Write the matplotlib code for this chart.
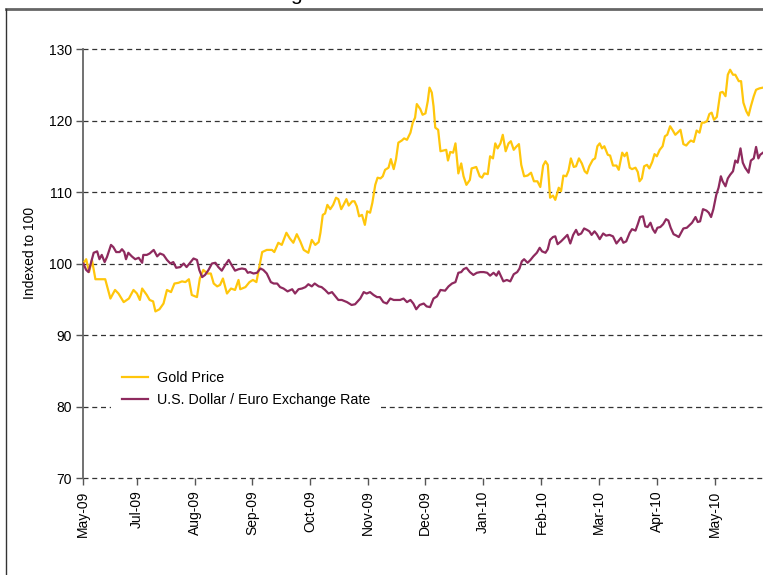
import matplotlib
matplotlib.use("Agg")
import matplotlib.pyplot as plt
from matplotlib.lines import Line2D

plt.rcParams['font.family'] = ['Liberation Sans', 'DejaVu Sans']

# x in months from the first tick (May-09)
gold_x = [0.00, 0.05, 0.10, 0.15, 0.21, 0.29, 0.38, 0.47, 0.55, 0.61, 0.70, 0.79, 0.87, 0.93, 0.98,
          1.02, 1.10, 1.15, 1.21, 1.25, 1.32, 1.39, 1.45, 1.52, 1.58, 1.65, 1.71, 1.77, 1.83, 1.88,
          1.97, 2.02, 2.08, 2.15, 2.21, 2.26, 2.32, 2.37, 2.42, 2.49, 2.56, 2.63, 2.69, 2.72, 2.81,
          2.88, 2.94, 3.00, 3.04, 3.10, 3.18, 3.27, 3.31, 3.38, 3.44, 3.52, 3.58, 3.64, 3.70, 3.76,
          3.82, 3.90, 3.96, 4.02, 4.08, 4.11, 4.15, 4.19, 4.23, 4.28, 4.33, 4.38, 4.42, 4.47, 4.51,
          4.56, 4.60, 4.66, 4.70, 4.74, 4.78, 4.83, 4.88, 4.92, 4.97, 5.01, 5.06, 5.10, 5.15, 5.19,
          5.23, 5.29, 5.33, 5.38, 5.42, 5.46, 5.52, 5.56, 5.61, 5.67, 5.71, 5.75, 5.78, 5.84, 5.88,
          5.93, 5.97, 6.00, 6.04, 6.07, 6.10, 6.15, 6.19, 6.24, 6.29, 6.32, 6.36, 6.41, 6.45, 6.50,
          6.55, 6.59, 6.64, 6.70, 6.73, 6.81, 6.87, 6.91, 6.95, 7.01, 7.05, 7.10, 7.14, 7.18, 7.23,
          7.27, 7.32, 7.37, 7.41, 7.46, 7.50, 7.55, 7.59, 7.64, 7.70, 7.76, 7.81, 7.87, 7.92, 7.97,
          8.01, 8.05, 8.09, 8.14, 8.18, 8.24, 8.28, 8.32, 8.37, 8.41, 8.45, 8.50, 8.54, 8.59, 8.64,
          8.69, 8.73, 8.77, 8.83, 8.87, 8.91, 8.95, 8.99, 9.03, 9.09, 9.13, 9.18, 9.24, 9.28, 9.34,
          9.38, 9.42, 9.47, 9.51, 9.57, 9.61, 9.64, 9.68, 9.72, 9.77, 9.81, 9.86, 9.90, 9.94, 9.99,
          10.04, 10.08, 10.12, 10.17, 10.21, 10.26, 10.30, 10.35, 10.40, 10.45, 10.49, 10.53, 10.58,
          10.63, 10.68, 10.72, 10.76, 10.81, 10.85, 10.89, 10.93, 10.98, 11.04, 11.08, 11.13, 11.17,
          11.21, 11.26, 11.30, 11.36, 11.40, 11.44, 11.49, 11.53, 11.57, 11.62, 11.66, 11.72, 11.78]
gold = [100.0, 100.6, 98.8, 100.5, 97.8, 97.8, 97.8, 95.1, 96.3, 95.8, 94.6, 95.1, 96.3, 95.8, 94.9,
        96.5, 95.6, 94.9, 94.7, 93.3, 93.6, 94.4, 96.3, 96.0, 97.2, 97.3, 97.5, 97.4, 97.8, 95.6,
        95.3, 97.9, 99.1, 98.6, 98.6, 97.2, 96.8, 97.0, 97.9, 95.8, 96.5, 96.3, 97.7, 96.4, 96.7,
        97.4, 97.7, 97.4, 99.1, 101.6, 101.9, 101.9, 101.6, 102.9, 102.6, 104.3, 103.5, 102.9, 104.1, 103.1,
        101.9, 101.5, 103.3, 102.6, 103.0, 104.3, 106.8, 107.0, 108.2, 107.6, 108.2, 109.2, 109.0, 107.6, 108.2,
        109.0, 108.1, 108.7, 108.7, 108.0, 106.6, 106.8, 105.4, 107.3, 107.1, 108.5, 111.0, 112.0, 111.9, 112.2,
        113.1, 113.4, 114.6, 113.2, 114.6, 116.9, 117.2, 117.5, 117.3, 118.3, 119.7, 120.4, 122.3, 121.6, 120.8,
        121.0, 122.7, 124.6, 123.9, 122.0, 119.0, 118.7, 115.7, 115.8, 115.9, 114.4, 115.6, 115.5, 116.8, 112.6,
        114.0, 112.2, 111.0, 111.7, 113.3, 113.5, 112.2, 112.0, 112.6, 112.5, 115.0, 114.7, 116.8, 116.1, 116.8,
        118.0, 115.7, 116.8, 117.1, 115.9, 116.3, 116.7, 113.8, 112.2, 112.3, 112.7, 111.5, 111.5, 110.7, 113.7,
        114.3, 113.8, 109.2, 109.5, 108.9, 110.6, 110.1, 112.3, 112.2, 113.0, 114.7, 113.5, 113.6, 114.7, 114.0,
        112.9, 112.6, 113.6, 114.5, 114.7, 116.4, 116.8, 116.1, 116.4, 115.2, 115.1, 113.7, 113.7, 113.1, 115.5,
        115.0, 115.5, 113.4, 113.2, 113.4, 112.8, 111.5, 111.9, 113.6, 113.8, 113.3, 114.2, 115.3, 115.0, 115.9,
        116.4, 117.8, 118.0, 119.2, 118.7, 118.0, 118.3, 118.7, 116.7, 116.5, 116.9, 117.2, 117.0,
        118.6, 118.3, 119.7, 119.7, 119.9, 120.9, 121.1, 120.1, 120.5, 123.9, 124.0, 123.4, 126.4,
        127.1, 126.4, 126.4, 125.5, 125.5, 122.5, 121.3, 120.7, 122.0, 123.4, 124.3, 124.5, 124.6]

usd_x = [0.00, 0.05, 0.09, 0.13, 0.18, 0.24, 0.28, 0.32, 0.37, 0.41, 0.48, 0.52, 0.57, 0.63, 0.67,
         0.71, 0.74, 0.78, 0.84, 0.90, 0.96, 1.02, 1.04, 1.10, 1.15, 1.22, 1.28, 1.33, 1.39, 1.45,
         1.51, 1.56, 1.61, 1.68, 1.74, 1.79, 1.85, 1.91, 1.97, 2.01, 2.06, 2.11, 2.17, 2.23, 2.29,
         2.34, 2.40, 2.46, 2.52, 2.57, 2.63, 2.69, 2.75, 2.81, 2.85, 2.89, 2.95, 3.01, 3.07, 3.12,
         3.18, 3.25, 3.30, 3.36, 3.41, 3.47, 3.54, 3.62, 3.67, 3.73, 3.79, 3.85, 3.90, 3.96, 4.01,
         4.08, 4.13, 4.19, 4.25, 4.31, 4.37, 4.42, 4.48, 4.57, 4.65, 4.71, 4.80, 4.86, 4.91, 4.97,
         5.03, 5.09, 5.14, 5.20, 5.26, 5.32, 5.38, 5.44, 5.49, 5.55, 5.61, 5.67, 5.72, 5.77, 5.83,
         5.90, 5.95, 6.01, 6.07, 6.13, 6.19, 6.27, 6.33, 6.39, 6.45, 6.50, 6.55, 6.59, 6.64, 6.70,
         6.76, 6.82, 6.88, 6.94, 7.00, 7.05, 7.11, 7.16, 7.20, 7.24, 7.28, 7.34, 7.40, 7.46, 7.52,
         7.56, 7.60, 7.64, 7.70, 7.75, 7.80, 7.86, 7.91, 7.95, 8.01, 8.05, 8.09, 8.14, 8.18, 8.22,
         8.28, 8.34, 8.39, 8.44, 8.49, 8.54, 8.58, 8.63, 8.68, 8.73, 8.77, 8.81, 8.86, 8.90, 8.95,
         9.01, 9.06, 9.12, 9.18, 9.24, 9.28, 9.32, 9.36, 9.41, 9.47, 9.51, 9.57, 9.61, 9.65, 9.70,
         9.74, 9.78, 9.83, 9.87, 9.91, 9.95, 10.00, 10.05, 10.10, 10.14, 10.18, 10.23, 10.28, 10.32,
         10.36, 10.40, 10.46, 10.51, 10.55, 10.61, 10.65, 10.69, 10.74, 10.80, 10.84, 10.88, 10.92,
         10.97, 11.01, 11.05, 11.08, 11.13, 11.17, 11.21, 11.26, 11.30, 11.34, 11.39, 11.43, 11.47,
         11.53, 11.57, 11.62, 11.66, 11.70, 11.73, 11.78]
usd = [100.0, 99.1, 98.8, 100.0, 101.5, 101.7, 100.6, 101.2, 100.2, 100.9, 102.6, 102.3, 101.6, 101.6, 102.0,
       101.6, 100.6, 101.5, 101.0, 100.6, 100.8, 100.1, 101.2, 101.2, 101.4, 101.9, 101.0, 101.4, 101.2, 100.5,
       100.0, 100.2, 99.4, 99.5, 100.0, 99.5, 100.1, 100.7, 100.5, 99.1, 98.1, 98.4, 99.1, 100.0, 100.1,
       99.5, 99.0, 99.8, 100.5, 99.8, 99.0, 99.2, 99.3, 99.2, 98.7, 98.8, 98.6, 98.7, 99.3, 99.1,
       98.6, 97.4, 97.2, 97.2, 96.7, 96.5, 96.1, 96.4, 95.8, 96.4, 96.5, 96.7, 97.1, 96.8, 97.2,
       96.8, 96.7, 96.3, 95.8, 96.0, 95.4, 94.9, 94.9, 94.6, 94.2, 94.3, 95.1, 96.0, 95.8, 96.0,
       95.6, 95.3, 95.3, 94.6, 94.4, 95.1, 94.9, 94.9, 94.9, 95.1, 94.6, 94.9, 94.4, 93.6, 94.2,
       94.4, 94.0, 93.9, 95.1, 95.4, 96.3, 96.2, 96.8, 97.2, 97.4, 98.7, 98.8, 99.2, 99.4, 98.8,
       98.4, 98.7, 98.8, 98.8, 98.7, 98.3, 98.7, 98.3, 98.9, 98.2, 97.5, 97.7, 97.5, 98.5, 98.8,
       99.3, 100.3, 100.6, 100.1, 100.5, 101.0, 101.5, 102.2, 101.7, 101.5, 102.0, 103.3, 103.7, 103.8, 102.7,
       103.1, 103.6, 104.0, 102.8, 104.0, 104.7, 104.0, 104.2, 104.9, 104.7, 104.5, 104.0, 104.5, 104.1, 103.4,
       104.2, 103.9, 104.0, 103.8, 102.8, 103.2, 103.6, 102.9, 103.1, 104.3, 104.8, 104.6, 105.5, 106.5, 106.6,
       105.2, 105.1, 105.7, 104.8, 104.3, 105.0, 105.1, 105.5, 106.2, 106.0, 105.0, 104.1, 103.9, 103.7,
       104.3, 104.9, 105.0, 105.4, 105.7, 106.5, 105.8, 105.9, 107.6, 107.4, 107.1, 106.5, 107.6,
       109.6, 110.6, 112.2, 111.5, 110.8, 111.9, 112.4, 112.9, 114.4, 114.1, 116.1, 114.1, 113.4,
       112.7, 114.4, 114.7, 116.3, 114.7, 115.2, 115.5]

tick_pos = [0, 0.93, 1.94, 2.93, 3.93, 4.93, 5.92, 6.93, 7.94, 8.94, 9.94, 10.94]
tick_labels = ['May-09', 'Jul-09', 'Aug-09', 'Sep-09', 'Oct-09', 'Nov-09', 'Dec-09',
               'Jan-10', 'Feb-10', 'Mar-10', 'Apr-10', 'May-10']
y_ticks = [70, 80, 90, 100, 110, 120, 130]

fig = plt.figure(figsize=(7.63, 5.75), dpi=100)
ax = fig.add_axes([83.3 / 763, 1 - 478 / 575, 1 - 83.3 / 763, (478 - 49) / 575])

for v in y_ticks:
    ax.axhline(v, color='#333333', lw=0.9, ls=(0, (4, 3)), zorder=1, clip_on=False)

ax.plot(gold_x, gold, color='#FFC60B', lw=1.6, label='Gold Price', zorder=3)
ax.plot(usd_x, usd, color='#8E2A5E', lw=1.6, label='U.S. Dollar / Euro Exchange Rate', zorder=3)

ax.set_xlim(0, 11.78)
ax.set_ylim(70, 130)
ax.set_yticks(y_ticks)
ax.set_xticks(tick_pos)
ax.set_xticklabels(tick_labels, rotation=90)
for s in ['top', 'right', 'bottom']:
    ax.spines[s].set_visible(False)
ax.spines['left'].set_color('#666666')
ax.spines['left'].set_linewidth(1.3)
ax.tick_params(axis='both', colors='#555555', length=5, width=1, labelsize=10, labelcolor='black')
ax.tick_params(axis='y', pad=3)
ax.tick_params(axis='x', pad=4)

leg = ax.legend(loc='upper left', bbox_to_anchor=(0.03, 0.292), frameon=True, fontsize=10.3,
                handlelength=1.8, handletextpad=0.6, borderpad=0.8, labelspacing=0.55)
leg.get_frame().set_facecolor('white')
leg.get_frame().set_edgecolor('none')
leg.get_frame().set_alpha(1)
leg.set_zorder(5)

fig.text(29.5 / 763, 1 - 253 / 575, 'Indexed to 100', rotation=90, ha='center', va='center', fontsize=10)

# title sits above the frame and is cut off, as in the source
fig.text(296 / 763, 1 - 0.5 / 575, 'g', ha='center', va='baseline', fontsize=15)

# outer frame
fig.add_artist(Line2D([6 / 763, 1], [1 - 9 / 575, 1 - 9 / 575], color='#666666', lw=2))
fig.add_artist(Line2D([6 / 763, 6 / 763], [0, 1 - 9 / 575], color='#333333', lw=1))

fig.savefig('out.png', dpi=100)
